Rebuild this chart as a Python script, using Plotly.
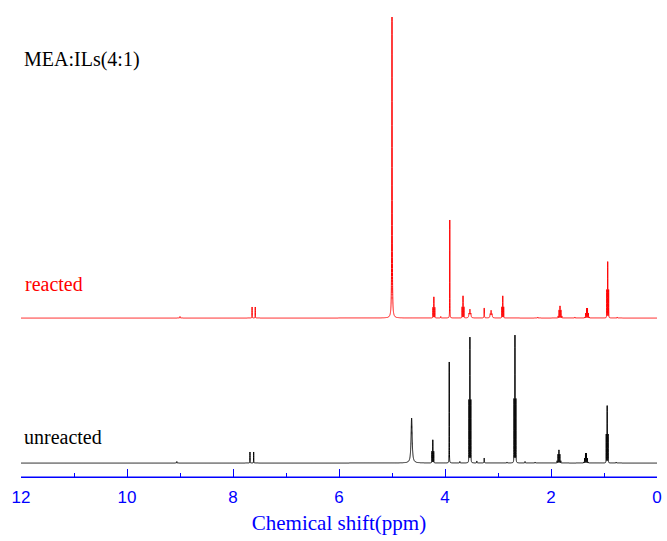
import numpy as np
import plotly.graph_objects as go

# Chemical shift grid (ppm)
ppm = np.round(np.arange(0.0, 12.0005, 0.0005), 4)
J_COUPLING = 0.0175  # ppm, ~7 Hz at 400 MHz

# Unreacted sample: peak list (centre ppm, tallest-line intensity a.u., number of lines, half width ppm)
unreacted_shift = [9.06, 7.68, 7.61, 4.63, 4.23, 3.92, 3.72, 3.53, 3.40, 3.26, 2.83, 2.68, 2.49, 2.30, 1.85, 1.34, 0.94, 0.77]
unreacted_height = [1.5, 11, 11, 45, 23, 101, 1.5, 125, 2, 5, 1, 127, 1.5, 1, 13, 10, 57, 1]
unreacted_lines = [1, 1, 1, 1, 3, 1, 1, 3, 1, 1, 1, 3, 1, 1, 5, 6, 3, 1]
unreacted_width = [0.002, 0.0015, 0.0015, 0.012, 0.0015, 0.0015, 0.003, 0.0015, 0.003, 0.003, 0.003, 0.0015, 0.003, 0.003, 0.0015, 0.0015, 0.0015, 0.003]

# Reacted sample
reacted_shift = [9.00, 7.64, 7.58, 5.00, 4.21, 4.08, 3.91, 3.66, 3.53, 3.26, 3.13, 2.91, 2.25, 1.83, 1.55, 1.32, 0.93, 0.75]
reacted_height = [1.5, 11, 11, 301, 21, 1.5, 98, 22, 8, 10, 7, 22, 1, 12, 1, 10, 56, 1]
reacted_lines = [1, 1, 1, 1, 3, 1, 1, 3, 3, 1, 3, 3, 1, 5, 1, 6, 3, 1]
reacted_width = [0.003, 0.0015, 0.0015, 0.004, 0.0015, 0.003, 0.0015, 0.0015, 0.006, 0.003, 0.006, 0.0015, 0.003, 0.0015, 0.003, 0.0015, 0.0015, 0.003]

REACTED_OFFSET = 145  # vertical stacking offset of the reacted trace

tick_values = [12, 10, 8, 6, 4, 2, 0]
tick_labels = ["12", "10", "8", "6", "4", "2", "0"]


def pascal_row(n):
    row = [1]
    for _ in range(n - 1):
        row = [a + b for a, b in zip([0] + row, row + [0])]
    row = np.array(row, dtype=float)
    return row / row.max()


def spectrum(shifts, heights, lines, widths):
    y = np.zeros_like(ppm)
    for s, h, n, w in zip(shifts, heights, lines, widths):
        coeffs = pascal_row(n)
        offsets = (np.arange(n) - (n - 1) / 2) * J_COUPLING
        for c, o in zip(coeffs, offsets):
            y += h * c * w ** 2 / ((ppm - s - o) ** 2 + w ** 2)
    return np.round(y, 2)


y_unreacted = spectrum(unreacted_shift, unreacted_height, unreacted_lines, unreacted_width)
y_reacted = spectrum(reacted_shift, reacted_height, reacted_lines, reacted_width) + REACTED_OFFSET

fig = go.Figure()
fig.add_trace(go.Scatter(x=ppm, y=y_unreacted, mode="lines",
                         line=dict(color="#000000", width=1, simplify=False),
                         hoverinfo="skip", showlegend=False))
fig.add_trace(go.Scatter(x=ppm, y=y_reacted, mode="lines",
                         line=dict(color="#FF0000", width=1, simplify=False),
                         hoverinfo="skip", showlegend=False))

serif = "Liberation Serif, Times New Roman, serif"
fig.add_annotation(x=11.98, y=404, xref="x", yref="y", text="MEA:ILs(4:1)", showarrow=False,
                   xanchor="left", yanchor="middle", font=dict(family=serif, size=20, color="#000000"))
fig.add_annotation(x=11.96, y=179, xref="x", yref="y", text="reacted", showarrow=False,
                   xanchor="left", yanchor="middle", font=dict(family=serif, size=20, color="#FF0000"))
fig.add_annotation(x=11.98, y=26, xref="x", yref="y", text="unreacted", showarrow=False,
                   xanchor="left", yanchor="middle", font=dict(family=serif, size=20, color="#000000"))

# Blue baseline of the chemical-shift axis
fig.add_shape(type="line", xref="paper", yref="paper", x0=0, x1=1, y0=0, y1=0,
              line=dict(color="#0000FF", width=1.2), layer="above")

fig.update_layout(
    width=667, height=541,
    margin=dict(l=21, r=10, t=0, b=64),
    paper_bgcolor="white", plot_bgcolor="white",
    xaxis=dict(
        range=[12, 0], showgrid=False, zeroline=False,
        showline=True, linecolor="#0000FF", linewidth=1.2,
        ticks="inside", ticklen=8, tickwidth=1.2, tickcolor="#0000FF",
        tickvals=tick_values, ticktext=tick_labels, ticklabelstandoff=4,
        tickfont=dict(family="Liberation Sans, Arial, sans-serif", size=17, color="#0000FF"),
        minor=dict(ticks="inside", ticklen=4, tickwidth=1.2, tickcolor="#0000FF", dtick=1, showgrid=False),
        title=dict(text="Chemical shift(ppm)", standoff=9,
                   font=dict(family=serif, size=21, color="#0000FF")),
    ),
    yaxis=dict(range=[-14, 463], visible=False, showgrid=False, zeroline=False),
)

fig.write_html("out.html")
